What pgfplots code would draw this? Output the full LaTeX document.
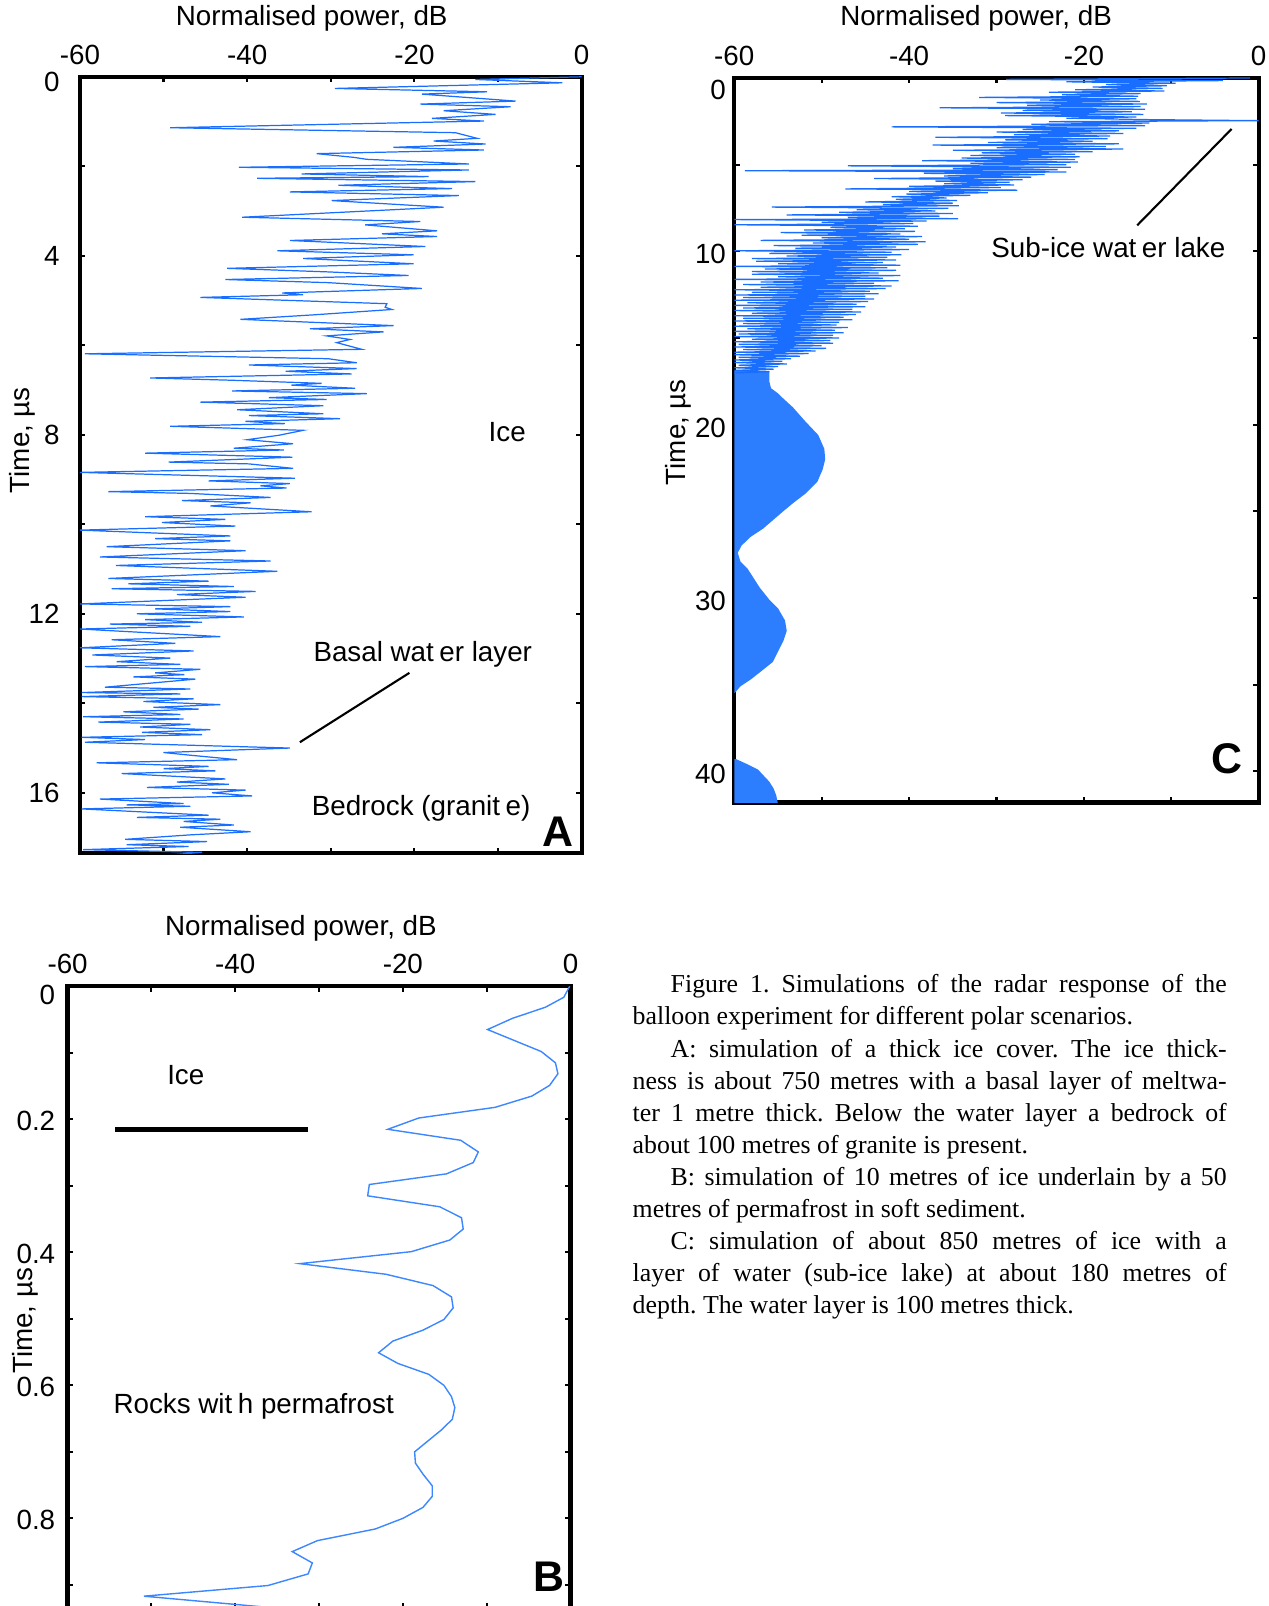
\documentclass[border=0pt]{standalone}
\usepackage{fontspec}
\setmainfont{Liberation Sans}
\newfontfamily\capfont{Liberation Serif}
\usepackage{pgfplots}
\pgfplotsset{compat=1.18}

\definecolor{trace}{RGB}{25,110,255}
\definecolor{traceB}{RGB}{60,135,255}
\definecolor{fillC}{RGB}{45,125,255}

\newcommand{\lbl}{\fontsize{7.9}{9}\selectfont}
\newcommand{\panel}{\fontsize{12.2}{14}\selectfont\bfseries}
% top "0" labels sit a little below their tick in the original
\newcommand{\lowzero}[1]{\raisebox{-#1}[\height][\depth]{0}}

\pgfplotsset{
  radar/.style={
    scale only axis,
    anchor=north west,
    y dir=reverse,
    xmin=-60, xmax=0,
    xtick={-60,-40,-20,0},
    xticklabels={-60,-40,-20,0},
    minor xtick={-50,-30,-10},
    xtick pos=both, xticklabel pos=top,
    ytick pos=both, yticklabel pos=left,
    tick align=inside,
    major tick length=0.55mm,
    minor tick length=0.55mm,
    tick style={black, line width=0.6pt},
    axis line style={line width=1.2pt},
    tick label style={font=\lbl},
    label style={font=\lbl},
    xlabel={Normalised power, dB},
    ylabel={Time, µs},
  },
}

\begin{document}
\begin{tikzpicture}

% ---------- panel A: thick ice with basal water ----------
\begin{axis}[radar,
  at={(7.99mm,-7.68mm)}, width=50.18mm, height=77.64mm,
  ymin=0, ymax=17.35,
  ytick={0,4,8,12,16}, yticklabels={\lowzero{0.5mm},4,8,12,16},
  minor ytick={2,6,10,14},
  yticklabel style={xshift=-0.8mm},
  xlabel style={at={(axis description cs:0.462,1)}, anchor=center, yshift=5.84mm},
  ylabel style={at={(axis description cs:-0.114,0.532)}, anchor=center},
]
\addplot[trace, line width=0.35pt, mark=none] coordinates {
(0,0) (-12.7,0.06) (-2.3,0.134) (-29.5,0.26) (-11.3,0.335) (-19.1,0.387) (-7.9,0.543)
(-19.3,0.61) (-8.5,0.669) (-16.5,0.758) (-10.3,0.84) (-17.9,0.929) (-11.7,0.989)
(-49.2,1.138) (-15.1,1.249) (-12.5,1.375) (-17.7,1.435) (-11.5,1.502) (-22.5,1.576)
(-11.7,1.636) (-31.7,1.717) (-27.3,1.799) (-25.7,1.844) (-13.5,1.948) (-41.0,2.022)
(-13.5,2.082) (-33.5,2.171) (-18.3,2.23) (-38.8,2.268) (-12.7,2.342) (-29.1,2.424)
(-15.5,2.498) (-34.9,2.572) (-14.7,2.654) (-29.9,2.766) (-16.5,2.914) (-40.6,3.138)
(-19.3,3.234) (-25.9,3.309) (-17.3,3.442) (-23.9,3.509) (-17.3,3.569) (-34.9,3.658)
(-18.7,3.792) (-36.4,3.888) (-20.1,3.978) (-33.3,4.06) (-20.1,4.178) (-42.4,4.28)
(-30.3,4.36) (-20.7,4.44) (-42.6,4.53) (-30.3,4.6) (-19.1,4.73) (-35.8,4.83)
(-33.3,4.87) (-45.6,4.93) (-23.3,5.07) (-23.5,5.15) (-22.7,5.2) (-32.1,5.32)
(-40.8,5.42) (-22.5,5.56) (-32.5,5.63) (-23.7,5.7) (-30.5,5.79) (-27.7,5.87)
(-29.3,5.94) (-26.3,6.09) (-59.4,6.19) (-30.3,6.3) (-26.9,6.39) (-39.8,6.44)
(-26.9,6.52) (-35.4,6.58) (-27.5,6.64) (-51.6,6.73) (-42,6.78) (-31.1,6.85)
(-34.7,6.89) (-27.1,6.96) (-41.8,7.02) (-25.7,7.08) (-37.4,7.17) (-30.5,7.21)
(-45.6,7.27) (-30.9,7.35) (-41.2,7.44) (-30.9,7.53) (-39.8,7.57) (-28.9,7.64)
(-40.2,7.7) (-35.5,7.75) (-49.2,7.81) (-33.3,7.9) (-36.2,8.01) (-40.0,8.11)
(-34.5,8.2) (-41.6,8.3) (-35.6,8.34) (-52.2,8.41) (-34.6,8.5) (-49.4,8.61)
(-39.8,8.65) (-34.5,8.75) (-60,8.84) (-34.3,8.97) (-44.6,9.03) (-34.9,9.09)
(-38.4,9.14) (-35.3,9.19) (-56.6,9.27) (-46.8,9.31) (-37.2,9.4) (-47.8,9.47)
(-39.6,9.52) (-44.4,9.59) (-32.3,9.72) (-52.2,9.83) (-42.6,9.89) (-50.2,9.96)
(-41.4,10.04) (-60,10.13) (-42.0,10.26) (-51.0,10.32) (-42.0,10.37) (-56.8,10.5)
(-40.2,10.59) (-57.6,10.73) (-37.2,10.82) (-55.7,10.92) (-36.4,11.05) (-56.6,11.21)
(-44.6,11.27) (-54.2,11.33) (-41.6,11.39) (-56.2,11.44) (-39.0,11.5) (-48.4,11.57)
(-40.2,11.63) (-60,11.78) (-42.0,11.84) (-51.0,11.89) (-42.0,11.95) (-53.2,12.0)
(-40.4,12.07) (-52.2,12.13) (-45.4,12.19) (-56.4,12.23) (-46.8,12.28) (-60,12.34)
(-43.2,12.51) (-56.2,12.58) (-48.6,12.66) (-60,12.76) (-46.4,12.83) (-58.5,12.92)
(-49.2,12.99) (-55.6,13.07) (-48.0,13.13) (-59.4,13.18) (-45.6,13.24) (-51,13.32)
(-47.5,13.36) (-53.6,13.41) (-46.2,13.46) (-57.0,13.64) (-46.8,13.68) (-59.8,13.76)
(-48.0,13.79) (-59.8,13.85) (-46.4,13.9) (-52.4,13.96) (-43.2,14.03) (-51.2,14.09)
(-45.8,14.13) (-54.8,14.19) (-48,14.25) (-59.6,14.3) (-47.6,14.35) (-57.8,14.42)
(-46.8,14.47) (-52.8,14.53) (-44.4,14.59) (-52.6,14.65) (-45.4,14.7) (-59.8,14.76)
(-52.2,14.81) (-59.4,14.87) (-34.9,15.0) (-50.0,15.1) (-46.8,15.16) (-41.2,15.26)
(-58.0,15.33) (-44.6,15.41) (-50.0,15.46) (-43.8,15.51) (-55.0,15.57) (-42.6,15.69)
(-48.4,15.76) (-42.2,15.81) (-52.0,15.88) (-40.2,15.94) (-44.2,16.0) (-39.4,16.07)
(-57.6,16.14) (-47.6,16.24) (-54.4,16.27) (-46.8,16.3) (-59.8,16.36) (-44.6,16.5)
(-53.2,16.55) (-43.2,16.59) (-47.6,16.64) (-41.6,16.72) (-48.0,16.77) (-39.6,16.87)
(-46.8,16.94) (-54.6,17.04) (-44.8,17.09) (-54.4,17.16) (-47.0,17.2) (-59.6,17.27)
(-45.4,17.33) (-50,17.4)
};
\node[font=\lbl] at (axis cs:-8.9,7.94) {Ice};
\node[font=\lbl] at (axis cs:-19.0,12.9) {Basal wat\kern0.2em er layer};
\draw[line width=0.6pt] (axis cs:-20.6,13.32) -- (axis cs:-33.7,14.87);
\node[font=\lbl] at (axis cs:-19.2,16.34) {Bedrock (granit\kern0.2em e)};
\node[font=\panel] at (axis cs:-2.8,16.86) {A};
\end{axis}

% ---------- panel C: sub-ice lake ----------
\begin{axis}[radar,
  at={(73.43mm,-7.8mm)}, width=52.44mm, height=72.44mm,
  ymin=0, ymax=41.8,
  ytick={0,10,20,30,40}, yticklabels={\lowzero{0.9mm},10,20,30,40},
  minor ytick={5,15,25,35},
  yticklabel style={xshift=0.4mm, yshift=-0.3mm},
  xlabel style={at={(axis description cs:0.461,1)}, anchor=center, yshift=5.96mm},
  ylabel style={at={(axis description cs:-0.107,0.511)}, anchor=center},
]
\addplot[draw=none, fill=fillC] coordinates {
(-60,16.9) (-56,16.9) (-56,17.5) (-55.8,17.9) (-55,18.2) (-54.6,18.4) (-53.3,19.0)
(-51.9,19.8) (-50.4,20.6) (-49.7,21.4) (-49.6,22.0) (-49.9,22.6) (-50.5,23.3)
(-51.9,24.0) (-53.2,24.5) (-54.4,25.0) (-56.7,26.0) (-58.2,26.5) (-59.2,27.0)
(-59.6,27.4) (-59.3,27.9) (-58.5,28.3) (-57.1,29.4) (-56.0,30.1) (-55.0,30.6)
(-54.2,31.3) (-54.0,31.9) (-54.4,32.5) (-55.0,33.1) (-55.6,33.7) (-58.1,34.7)
(-59.3,35.1) (-59.8,35.4) (-60,35.5)
};
\addplot[draw=none, fill=fillC] coordinates {
(-60,39.3) (-59.8,39.3) (-58.5,39.6) (-57.3,39.9) (-56.0,40.6) (-55.5,41.0)
(-55.2,41.4) (-55.0,41.9) (-60,41.9)
};
\addplot[trace, line width=0.35pt, mark=none] coordinates {
(-1.0,0.0) (-28.9,0.08) (-4.1,0.15) (-22.0,0.22) (-9.5,0.3) (-17.5,0.38) (-10.5,0.45)
(-19.0,0.52) (-11.0,0.6) (-21.0,0.68) (-10.8,0.75) (-24.0,0.82) (-13.5,0.9)
(-22.5,0.97) (-13.8,1.05) (-32.0,1.12) (-14.0,1.2) (-25.0,1.27) (-13.6,1.35)
(-30.0,1.42) (-12.8,1.5) (-26.5,1.57) (-13.5,1.65) (-36.5,1.72) (-13.0,1.8)
(-27.0,1.87) (-14.5,1.95) (-29.5,2.02) (-13.2,2.1) (-29.0,2.17) (-14.0,2.25)
(-22.0,2.32) (-13.0,2.4) (0.0,2.46) (-24.0,2.52) (-12.5,2.6) (-26.0,2.67)
(-13.0,2.75) (-42.0,2.82) (-14.0,2.9) (-27.0,2.97) (-16.0,3.05) (-30.0,3.12)
(-15.5,3.2) (-28.0,3.27) (-17.0,3.35) (-37.0,3.42) (-17.3,3.5) (-29.0,3.57)
(-19.0,3.65) (-31.0,3.72) (-16.0,3.8) (-37.3,3.87) (-17.5,3.95) (-30.0,4.02)
(-15.5,4.1) (-35.0,4.17) (-19.0,4.25) (-31.7,4.32) (-21.0,4.4) (-33.0,4.47)
(-20.5,4.55) (-34.0,4.62) (-21.0,4.7) (-38.5,4.77) (-20.7,4.85) (-33.0,4.92)
(-22.0,5.0) (-47.0,5.07) (-21.5,5.15) (-35.0,5.22) (-23.0,5.3) (-58.8,5.35)
(-22.0,5.42) (-38.3,5.5) (-24.5,5.57) (-36.0,5.65) (-26.0,5.72) (-44.0,5.8)
(-27.0,5.87) (-37.0,5.95) (-28.5,6.02) (-36.0,6.1) (-28.0,6.17) (-40.0,6.25)
(-29.5,6.32) (-47.3,6.4) (-27.6,6.47) (-40.0,6.55) (-31.0,6.62) (-40.3,6.7)
(-33.0,6.77) (-42.0,6.85) (-35.7,6.92) (-41.5,7.0) (-34.5,7.07) (-45.0,7.15)
(-35.0,7.22) (-43.0,7.3) (-34.3,7.37) (-55.7,7.45) (-35.5,7.52) (-46.0,7.6)
(-37.0,7.67) (-48.0,7.75) (-35.0,7.82) (-54.0,7.9) (-36.5,7.97) (-47.0,8.05)
(-34.4,8.12) (-60.0,8.17) (-38.0,8.25) (-50.0,8.32) (-39.5,8.4) (-60.0,8.47)
(-39.0,8.55) (-49.0,8.62) (-40.5,8.7) (-52.0,8.77) (-39.3,8.85) (-54.7,8.92)
(-41.0,9.0) (-52.3,9.07) (-38.5,9.15) (-50.0,9.22) (-40.0,9.3) (-57.0,9.37)
(-38.1,9.45) (-51.0,9.52) (-39.0,9.6) (-55.5,9.67) (-41.5,9.75) (-53.0,9.82)
(-40.0,9.9) (-60.0,9.97) (-42.0,10.05) (-56.0,10.12) (-40.9,10.2) (-54.0,10.27)
(-42.5,10.35) (-58.0,10.42) (-41.5,10.5) (-57.5,10.57) (-43.0,10.65) (-55.0,10.72)
(-41.0,10.8) (-60.0,10.87) (-42.5,10.95) (-56.5,11.02) (-41.5,11.1) (-58.0,11.17)
(-43.5,11.25) (-58.0,11.32) (-41.0,11.4) (-55.0,11.47) (-43.0,11.55) (-60.0,11.62)
(-41.2,11.7) (-57.0,11.77) (-44.0,11.85) (-59.0,11.92) (-42.0,12.0) (-57.0,12.07)
(-42.7,12.15) (-60.0,12.22) (-44.5,12.3) (-58.0,12.37) (-43.5,12.45) (-60.0,12.52)
(-45.0,12.6) (-59.0,12.67) (-44.0,12.75) (-60.0,12.82) (-44.7,12.9) (-58.5,12.97)
(-46.0,13.05) (-60.0,13.12) (-45.0,13.2) (-59.0,13.27) (-46.5,13.35) (-60.0,13.42)
(-45.5,13.5) (-58.0,13.57) (-46.1,13.65) (-60.0,13.72) (-47.5,13.8) (-59.0,13.87)
(-46.5,13.95) (-60.0,14.02) (-48.0,14.1) (-59.0,14.17) (-48.3,14.25) (-60.0,14.32)
(-47.0,14.4) (-58.5,14.47) (-48.5,14.55) (-60.0,14.62) (-47.5,14.7) (-59.5,14.77)
(-48.7,14.85) (-60.0,14.92) (-48.0,15.0) (-58.0,15.07) (-49.0,15.15) (-60.0,15.22)
(-48.7,15.3) (-59.5,15.37) (-50.0,15.45) (-60.0,15.52) (-49.5,15.6) (-59.0,15.67)
(-50.7,15.75) (-60.0,15.82) (-51.5,15.9) (-60.0,15.97) (-52.5,16.05) (-59.5,16.12)
(-53.5,16.2) (-60.0,16.27) (-54.5,16.35) (-60.0,16.42) (-54.0,16.5) (-59.5,16.57)
(-55.0,16.65) (-60.0,16.72) (-55.5,16.8) (-60.0,16.87) (-56.0,16.95) (-60.0,17.02)
};
\node[font=\lbl] at (axis cs:-17.2,9.8) {Sub-ice wat\kern0.2em er lake};
\draw[line width=0.6pt] (axis cs:-3.1,2.94) -- (axis cs:-13.9,8.5);
\node[font=\panel] at (axis cs:-3.6,39.3) {C};
\end{axis}

% ---------- panel B: ice over permafrost ----------
\begin{axis}[radar,
  at={(6.76mm,-98.63mm)}, width=50.29mm, height=62.18mm,
  ymin=0, ymax=0.935,
  ytick={0,0.2,0.4,0.6,0.8}, yticklabels={\lowzero{0.7mm},0.2,0.4,0.6,0.8},
  minor ytick={0.1,0.3,0.5,0.7,0.9},
  yticklabel style={yshift=-0.2mm},
  xlabel style={at={(axis description cs:0.464,1)}, anchor=center, yshift=5.83mm},
  ylabel style={at={(axis description cs:-0.0835,0.462)}, anchor=center},
]
\addplot[traceB, line width=0.4pt, mark=none] coordinates {
(-0.1,0) (-0.8,0.0165) (-3.0,0.0315) (-6.9,0.048) (-9.9,0.065) (-3.5,0.098)
(-1.8,0.115) (-1.5,0.1315) (-2.5,0.149) (-4.6,0.165) (-9.0,0.182) (-18.1,0.198)
(-21.8,0.215) (-13.1,0.2315) (-11.0,0.249) (-11.6,0.265) (-14.8,0.282) (-24.0,0.298)
(-24.2,0.315) (-15.6,0.3315) (-13.0,0.348) (-12.8,0.365) (-14.4,0.3815) (-19.0,0.399)
(-32.3,0.417) (-22.0,0.433) (-16.4,0.45) (-14.2,0.467) (-14.0,0.4835) (-15.1,0.501)
(-17.6,0.517) (-21.2,0.5335) (-22.9,0.551) (-20.6,0.567) (-16.9,0.5835) (-15.1,0.6)
(-14.2,0.617) (-13.8,0.6335) (-14.1,0.651) (-15.4,0.667) (-17.0,0.6835) (-18.6,0.7)
(-18.5,0.717) (-17.6,0.7335) (-16.5,0.751) (-16.5,0.767) (-17.6,0.7835) (-20.0,0.8)
(-23.3,0.816) (-30.2,0.8335) (-33.2,0.85) (-30.8,0.867) (-31.3,0.8835) (-36.1,0.901)
(-50.9,0.917) (-36.8,0.933) (-35,0.95)
};
\node[font=\lbl] at (axis cs:-45.9,0.134) {Ice};
\draw[line width=0.55mm] (axis cs:-54.3,0.215) -- (axis cs:-31.3,0.215);
\node[font=\lbl] at (axis cs:-37.8,0.631) {Rocks wit\kern0.2em h permafrost};
\node[font=\panel] at (axis cs:-2.6,0.888) {B};
\end{axis}

% ---------- caption ----------
\node[anchor=north west, inner sep=0pt, text width=59.4mm, align=justify,
      font=\capfont\fontsize{7.35}{9.12}\selectfont] at (63.2mm,-97.4mm) {%
\frenchspacing
\hspace*{3.8mm}Figure 1. Simulations of the radar response of the\linebreak
balloon experiment for different polar scenarios.\par
\hspace*{3.8mm}A: simulation of a thick ice cover. The ice thick-\linebreak
ness is about 750 metres with a basal layer of meltwa-\linebreak
ter 1 metre thick. Below the water layer a bedrock of\linebreak
about 100 metres of granite is present.\par
\hspace*{3.8mm}B: simulation of 10 metres of ice underlain by a 50\linebreak
metres of permafrost in soft sediment.\par
\hspace*{3.8mm}C: simulation of about 850 metres of ice with a\linebreak
layer of water (sub-ice lake) at about 180 metres of\linebreak
depth. The water layer is 100 metres thick.\par};

\pgfresetboundingbox
\path[use as bounding box] (0,0) rectangle (126.8mm,-160.6mm);
\end{tikzpicture}
\end{document}
